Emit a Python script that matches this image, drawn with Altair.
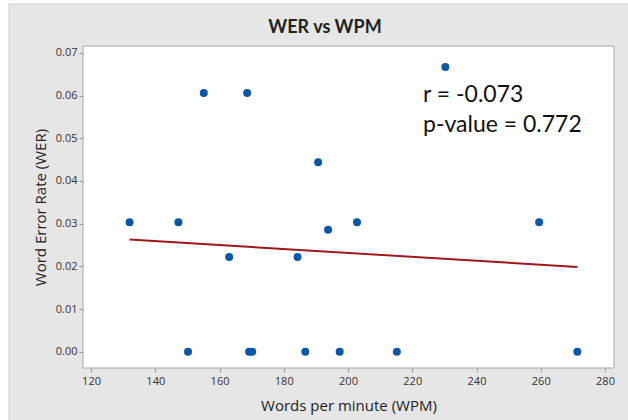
import altair as alt
import pandas as pd

# Words per minute and word error rate for each speaker
wpm = [132.0, 147.2, 150.2, 155.1, 163.0, 168.6, 169.2, 170.2, 184.3,
       186.7, 190.7, 193.8, 197.4, 202.8, 215.2, 230.3, 259.5, 271.4]
wer = [0.0303, 0.0303, 0.0, 0.0606, 0.0222, 0.0606, 0.0, 0.0, 0.0222,
       0.0, 0.0444, 0.0286, 0.0, 0.0303, 0.0, 0.0667, 0.0303, 0.0]

x_ticks = [120, 140, 160, 180, 200, 220, 240, 260, 280]
y_ticks = [0.0, 0.01, 0.02, 0.03, 0.04, 0.05, 0.06, 0.07]
stats_lines = ["r = -0.073", "p-value = 0.772"]
chart_title = "WER vs WPM"

df = pd.DataFrame({"wpm": wpm, "wer": wer})

W, H = 531, 322
AXIS_FONT = "Open Sans"
TEXT_FONT = "Lato"

x_scale = alt.Scale(domain=[117.5, 282.8], nice=False, zero=False)
y_scale = alt.Scale(domain=[-0.0038, 0.0716], nice=False, zero=False)

x_axis = alt.Axis(
    values=x_ticks, grid=False, domain=False, tickSize=4, tickColor="#9a9a9a",
    labelFont=AXIS_FONT, labelFontSize=11, labelColor="#333333", labelPadding=3,
    title="Words per minute (WPM)", titleFont=AXIS_FONT, titleFontSize=15,
    titleFontWeight="normal", titleColor="#222222",
    titleBaseline="middle", titleY=37, titleX=W / 2, zindex=1,
)
y_axis = alt.Axis(
    values=y_ticks, format=".2f", grid=False, domain=False, tickSize=4,
    tickColor="#9a9a9a", labelFont=AXIS_FONT, labelFontSize=11,
    labelColor="#333333", labelPadding=2,
    title="Word Error Rate (WER)", titleFont=AXIS_FONT, titleFontSize=15,
    titleFontWeight="normal", titleColor="#222222",
    titleBaseline="middle", titleX=-43, titleY=H / 2, zindex=1,
)

one = alt.Data(values=[{}])

# grey panel behind everything
panel = alt.Chart(one).mark_rect(
    fill="#e6e6e6", stroke="#cfcfcf", strokeWidth=1
).encode(
    x=alt.value(-74), x2=alt.value(W + 20),
    y=alt.value(-42), y2=alt.value(H + 60),
)

# white plotting area with its frame
frame = alt.Chart(one).mark_rect(
    fill="white", stroke="#a6a6a6", strokeWidth=1
).encode(
    x=alt.value(0), x2=alt.value(W), y=alt.value(0), y2=alt.value(H)
)

# chart heading, centred over the grey panel
heading = alt.Chart(one).mark_text(
    text=chart_title, align="center", baseline="alphabetic",
    font=TEXT_FONT, fontSize=18, fontWeight="bold", color="#222222",
).encode(x=alt.value(242), y=alt.value(-13))

base = alt.Chart(df)

points = base.mark_circle(size=64, color="#0b57a6", opacity=1).encode(
    x=alt.X("wpm:Q", scale=x_scale, axis=x_axis),
    y=alt.Y("wer:Q", scale=y_scale, axis=y_axis),
)

fit = base.transform_regression("wpm", "wer").mark_line(
    color="#a0171a", strokeWidth=2
).encode(
    x=alt.X("wpm:Q", scale=x_scale),
    y=alt.Y("wer:Q", scale=y_scale),
)

stats = alt.Chart(one).mark_text(
    text=stats_lines, align="left", baseline="alphabetic",
    font=TEXT_FONT, fontSize=23, lineHeight=30, color="#111111",
).encode(x=alt.value(340), y=alt.value(56))

chart = alt.layer(panel, frame, heading, fit, points, stats).properties(
    width=W, height=H,
    autosize=alt.AutoSizeParams(type="none"),
    padding={"left": 83, "top": 46, "right": 14, "bottom": 52},
    background="white",
).configure_view(stroke=None)

chart.save("out.html", embed_options={"renderer": "svg", "actions": False})
